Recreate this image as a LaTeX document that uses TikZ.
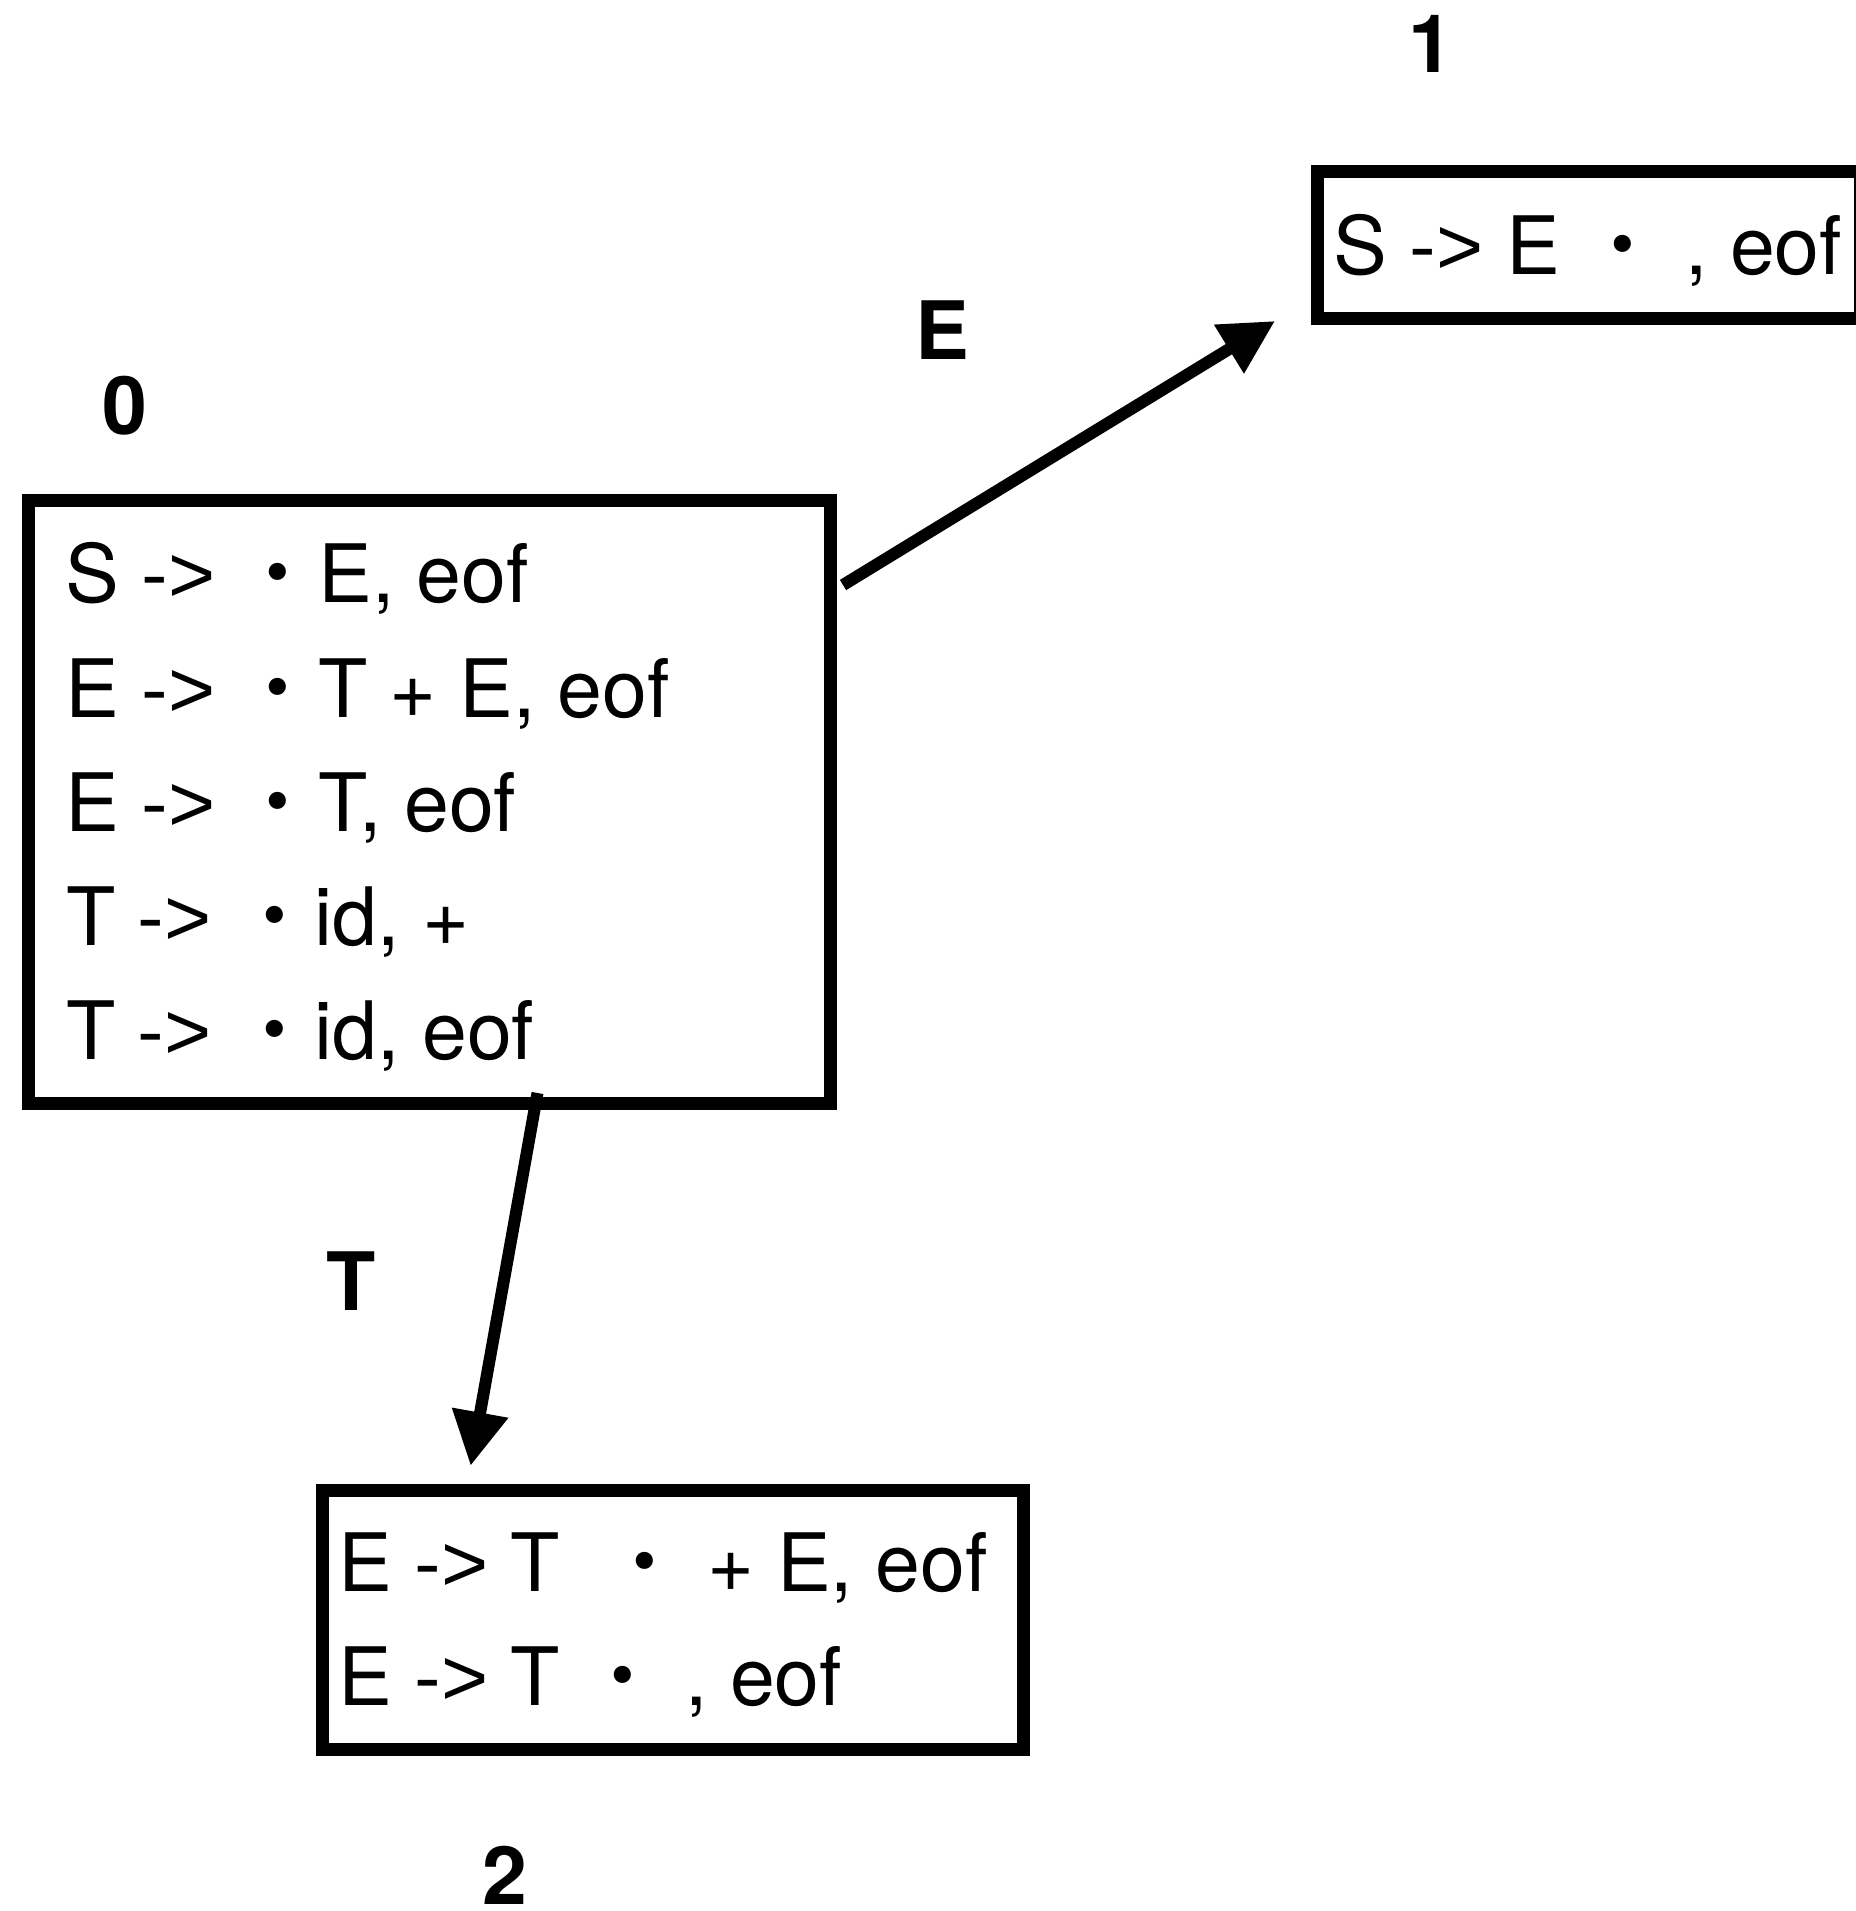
\documentclass[tikz,border=0pt]{standalone}
\usepackage{fontspec}
\setmainfont{TeX Gyre Heros}
\newfontfamily\cjk{Noto Sans CJK JP}
\newfontfamily\gtfont{Liberation Sans}
\newcommand\gtsign{{\gtfont >}}
\usetikzlibrary{arrows.meta}
\tikzset{
  box/.style={draw, line width=13pt, inner sep=0pt, outer sep=0pt},
  item/.style={anchor=base west, inner sep=0pt, font=\fontsize{80.6}{114}\selectfont},
  statelabel/.style={anchor=base, inner sep=0pt, font=\fontsize{80.6}{114}\selectfont\bfseries},
  trans/.style={line width=12pt, -{Triangle[length=54pt,width=54pt]}}
}
\begin{document}
\begin{tikzpicture}[x=1pt,y=1pt]
\useasboundingbox (0,0) rectangle (1855,-1911);
% boxes
\node[box, minimum width=802pt, minimum height=603pt] (b0) at (429,-801.5) {};
\node[box, minimum width=543pt, minimum height=147pt] (b1) at (1588.5,-245.2) {};
\node[box, minimum width=700.5pt, minimum height=259pt] (b2) at (672.75,-1620) {};
% state numbers
\node[statelabel] (n0) at (125,-434.5) {0};
\node[statelabel] (n1) at (1431,-73) {1};
\node[statelabel] (n2) at (504.5,-1904) {2};
% items of state 0
\node[item] (l01) at (65,-602.7) {S -\gtsign{} {\cjk ・}E, eof};
\node[item] (l02) at (65,-717) {E -\gtsign{} {\cjk ・}T + E, eof};
\node[item] (l03) at (65,-831) {E -\gtsign{} {\cjk ・}T, eof};
\node[item] (l04) at (66,-945) {T -\gtsign{} {\cjk ・}id, +};
\node[item] (l05) at (66,-1059) {T -\gtsign{} {\cjk ・}id, eof};
% item of state 1
\node[item] (l11) at (1333.5,-274.5) {S -\gtsign{} E {\cjk ・} , eof};
% items of state 2
\node[item] (l21) at (338,-1591.4) {E -\gtsign{} T\ \ {\cjk ・} + E, eof};
\node[item] (l22) at (338,-1705.3) {E -\gtsign{} T {\cjk ・} , eof};
% transitions
\coordinate (eFrom) at (843,-585);
\coordinate (eTo) at (1275,-321);
\coordinate (tFrom) at (537.5,-1093);
\coordinate (tTo) at (470.6,-1465.8);
\draw[trans] (eFrom) -- (eTo);
\draw[trans] (tFrom) -- (tTo);
\node[statelabel] (lE) at (942,-359) {E};
\node[statelabel] (lT) at (351,-1310.5) {T};
\end{tikzpicture}
\end{document}
